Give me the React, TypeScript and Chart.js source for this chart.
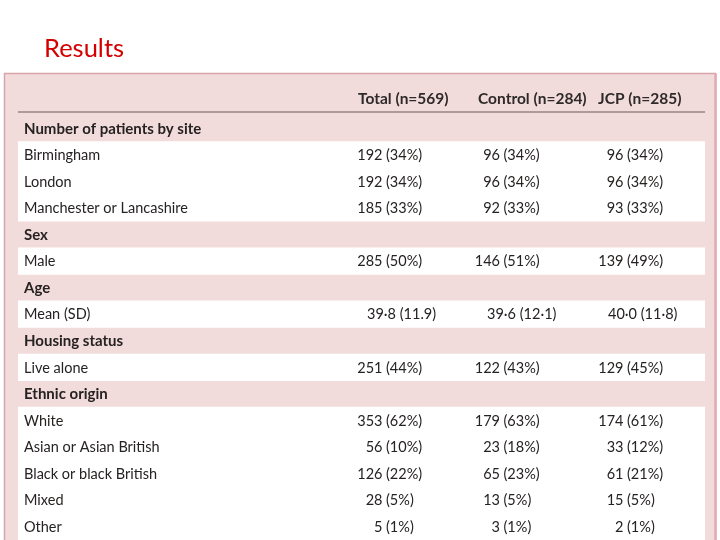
import React, { useEffect, useRef } from "react";
import { Chart, registerables } from "chart.js";

Chart.register(...registerables);

const pageTitle = "Results";
const columnHeaders = ["Total (n=569)", "Control (n=284)", "JCP (n=285)"];

const rowLabels = [
  "Number of patients by site",
  "Birmingham",
  "London",
  "Manchester or Lancashire",
  "Sex",
  "Male",
  "Age",
  "Mean (SD)",
  "Housing status",
  "Live alone",
  "Ethnic origin",
  "White",
  "Asian or Asian British",
  "Black or black British",
  "Mixed",
  "Other",
];

const rowKinds = [
  "section", "count", "count", "count",
  "section", "count",
  "section", "mean",
  "section", "count",
  "section", "count", "count", "count", "count", "count",
];

const totalValues = [
  "", "192 (34%)", "192 (34%)", "185 (33%)",
  "", "285 (50%)",
  "", "39·8 (11.9)",
  "", "251 (44%)",
  "", "353 (62%)", "56 (10%)", "126 (22%)", "28 (5%)", "5 (1%)",
];

const controlValues = [
  "", "96 (34%)", "96 (34%)", "92 (33%)",
  "", "146 (51%)",
  "", "39·6 (12·1)",
  "", "122 (43%)",
  "", "179 (63%)", "23 (18%)", "65 (23%)", "13 (5%)", "3 (1%)",
];

const jcpValues = [
  "", "96 (34%)", "96 (34%)", "93 (33%)",
  "", "139 (49%)",
  "", "40·0 (11·8)",
  "", "129 (45%)",
  "", "174 (61%)", "33 (12%)", "61 (21%)", "15 (5%)", "2 (1%)",
];

const FONT = "Lato, 'Open Sans', 'Noto Sans', sans-serif";
const TEXT = "#262222";
const PINK = "#f2dcdb";

const tablePlugin = {
  id: "tablePlugin",
  beforeDraw(chart: any) {
    const ctx = chart.ctx as CanvasRenderingContext2D;
    const { width, height } = chart;
    const area = chart.chartArea;
    ctx.save();
    ctx.fillStyle = "#ffffff";
    ctx.fillRect(0, 0, width, height);

    // pink panel
    ctx.fillStyle = PINK;
    ctx.fillRect(4, 73, 713, height - 73);
    ctx.strokeStyle = "#d9a3ab";
    ctx.lineWidth = 1.5;
    ctx.beginPath();
    ctx.moveTo(4.5, height + 2);
    ctx.lineTo(4.5, 73.5);
    ctx.lineTo(716, 73.5);
    ctx.stroke();
    ctx.strokeStyle = "#e2aab3";
    ctx.lineWidth = 2.5;
    ctx.beginPath();
    ctx.moveTo(715.5, 73.5);
    ctx.lineTo(715.5, height + 2);
    ctx.stroke();

    // title
    ctx.fillStyle = "#d40000";
    ctx.font = `25.5px ${FONT}`;
    ctx.textAlign = "left";
    ctx.textBaseline = "alphabetic";
    ctx.fillText(pageTitle, 44, 57);

    // column headers
    ctx.fillStyle = "#2e2a2a";
    ctx.font = `bold 15.5px ${FONT}`;
    ctx.textBaseline = "middle";
    const headX = [358, 478, 598];
    columnHeaders.forEach((h, i) => ctx.fillText(h, headX[i], 98.5));

    // header rule
    ctx.strokeStyle = "#9a8582";
    ctx.lineWidth = 1.5;
    ctx.beginPath();
    ctx.moveTo(area.left, 112);
    ctx.lineTo(area.right, 112);
    ctx.stroke();
    ctx.restore();
  },
  afterDatasetsDraw(chart: any) {
    const ctx = chart.ctx as CanvasRenderingContext2D;
    const yScale = chart.scales.y;
    const area = chart.chartArea;
    const parenX = [386, 503.5, 627];
    const meanX = [367, 487, 608];
    const cols = [totalValues, controlValues, jcpValues];
    ctx.save();
    ctx.fillStyle = TEXT;
    ctx.textBaseline = "middle";
    rowLabels.forEach((label, i) => {
      const y = yScale.getPixelForValue(i) + 0.5;
      const kind = rowKinds[i];
      ctx.textAlign = "left";
      ctx.font = kind === "section" ? `bold 15px ${FONT}` : `14.5px ${FONT}`;
      ctx.fillText(label, area.left + 6, y);
      if (kind === "section") return;
      ctx.font = `14.5px ${FONT}`;
      cols.forEach((vals, c) => {
        const s = vals[i];
        if (!s) return;
        if (kind === "mean") {
          ctx.textAlign = "left";
          ctx.fillText(s, meanX[c], y);
          return;
        }
        const k = s.indexOf(" (");
        const num = s.slice(0, k);
        const rest = s.slice(k + 1);
        ctx.textAlign = "right";
        ctx.fillText(num, parenX[c] - 3.5, y);
        ctx.textAlign = "left";
        ctx.fillText(rest, parenX[c], y);
      });
    });
    ctx.restore();
  },
};

export default function App() {
  const ref = useRef<HTMLCanvasElement | null>(null);
  useEffect(() => {
    if (!ref.current) return;
    const chart = new Chart(ref.current, {
      type: "bar",
      data: {
        labels: rowLabels,
        datasets: [
          {
            label: "rows",
            data: rowKinds.map((k) => (k === "section" ? null : [0, 1])) as any,
            backgroundColor: "#ffffff",
            borderWidth: 0,
            barPercentage: 1,
            categoryPercentage: 1,
          },
        ],
      },
      options: {
        indexAxis: "y",
        responsive: false,
        animation: false,
        devicePixelRatio: 1,
        layout: { padding: { left: 18, right: 15, top: 115, bottom: 0 } },
        scales: {
          x: { type: "linear", min: 0, max: 1, display: false },
          y: { type: "category", display: false, offset: true },
        },
        plugins: {
          legend: { display: false },
          tooltip: { enabled: false },
          title: { display: false },
        },
      },
      plugins: [tablePlugin],
    });
    return () => chart.destroy();
  }, []);
  return (
    <div style={{ position: "fixed", left: 0, top: 0, width: 720, height: 540 }}>
      <canvas ref={ref} width={720} height={540} />
    </div>
  );
}
